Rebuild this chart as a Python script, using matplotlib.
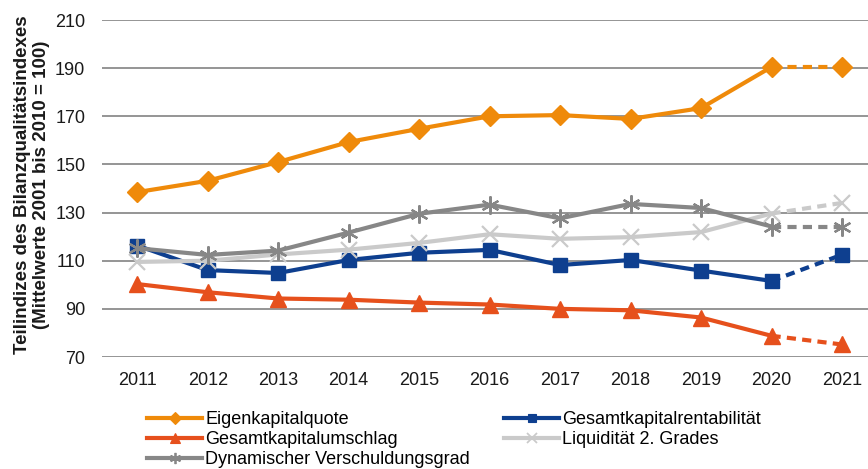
import matplotlib
matplotlib.use("Agg")
import matplotlib.pyplot as plt
from matplotlib.lines import Line2D

plt.rcParams['font.family'] = ['Liberation Sans', 'DejaVu Sans']

years = ['2011', '2012', '2013', '2014', '2015', '2016', '2017', '2018', '2019', '2020', '2021']
eigenkapitalquote = [138.5, 143.2, 151.0, 159.3, 164.8, 170.0, 170.5, 168.9, 173.4, 190.5, 190.5]
gesamtkapitalrentabilitaet = [116.3, 106.1, 104.9, 110.3, 113.3, 114.5, 108.2, 110.3, 105.9, 101.6, 112.5]
gesamtkapitalumschlag = [100.3, 96.9, 94.3, 93.8, 92.6, 91.8, 90.0, 89.4, 86.4, 78.8, 75.2]
liquiditaet_2_grades = [109.5, 110.0, 112.6, 114.6, 117.4, 121.0, 119.1, 119.8, 121.9, 129.6, 134.0]
dyn_verschuldungsgrad = [115.2, 112.4, 114.2, 121.7, 129.5, 133.3, 127.6, 133.6, 131.9, 124.2, 124.2]

series = [
    ('Eigenkapitalquote', eigenkapitalquote, '#EF8A0A', 'D', 10, 1.0),
    ('Gesamtkapitalrentabilität', gesamtkapitalrentabilitaet, '#0E3F8F', 's', 10, 1.0),
    ('Gesamtkapitalumschlag', gesamtkapitalumschlag, '#E6501C', '^', 11, 1.0),
    ('Liquidität 2. Grades', liquiditaet_2_grades, '#CACACA', 'x', 12, 1.6),
    ('Dynamischer Verschuldungsgrad', dyn_verschuldungsgrad, '#878787', (6, 2, 0), 13, 1.6),
]

fig = plt.figure(figsize=(8.68, 4.69), dpi=100)
ax = fig.add_axes([102 / 868, 1 - 357 / 469, 1 - 102 / 868, (357 - 20) / 469])

x = list(range(len(years)))
handles = {}
for name, vals, col, mk, ms, mew in series:
    # solid line up to 2020, dashed segment to the 2021 value
    ax.plot(x[:-1], vals[:-1], color=col, lw=3.0, solid_capstyle='round',
            marker=mk, markersize=ms, markeredgewidth=mew, markeredgecolor=col,
            markerfacecolor=col, zorder=3)
    ax.plot(x[-2:], vals[-2:], color=col, lw=3.0, linestyle=(0, (2.2, 1.5)),
            zorder=2)
    ax.plot(x[-1:], vals[-1:], color=col, lw=0, marker=mk, markersize=ms,
            markeredgewidth=mew, markeredgecolor=col, markerfacecolor=col, zorder=3)
    handles[name] = Line2D([], [], color=col, lw=3.0, marker=mk,
                           markersize=ms * 0.62, markeredgewidth=mew * 0.8,
                           markeredgecolor=col, markerfacecolor=col)

ax.set_ylim(70, 210)
ax.set_yticks(range(70, 211, 20))
ax.set_xlim(-0.5, 10 + (868 - 842) / 70.5)
ax.set_xticks(x)
ax.set_xticklabels(years)
ax.yaxis.grid(True, color='#8C8C8C', lw=1.3)
ax.set_axisbelow(True)
for s in ax.spines.values():
    s.set_visible(False)
ax.tick_params(axis='both', length=0, labelsize=13, colors='#1a1a1a')
ax.tick_params(axis='x', pad=11)
ax.tick_params(axis='y', pad=12)

fig.text(32 / 868, 1 - 185 / 469, 'Teilindizes des Bilanzqualitätsindexes\n(Mittelwerte 2001 bis 2010 = 100)',
         rotation=90, ha='center', va='center', fontsize=13.5, fontweight='bold',
         multialignment='center', linespacing=1.15, color='#1a1a1a')

order = ['Eigenkapitalquote', 'Gesamtkapitalumschlag', 'Dynamischer Verschuldungsgrad',
         'Gesamtkapitalrentabilität', 'Liquidität 2. Grades']
fig.legend([handles[n] for n in order], order, ncol=2, frameon=False,
           loc='upper left', bbox_to_anchor=(147 / 868, 1 - 411 / 469),
           fontsize=13, handlelength=3.05, handletextpad=0.17,
           labelspacing=0.17, columnspacing=1.9, borderaxespad=0, borderpad=0)

fig.savefig('out.png', dpi=100)
